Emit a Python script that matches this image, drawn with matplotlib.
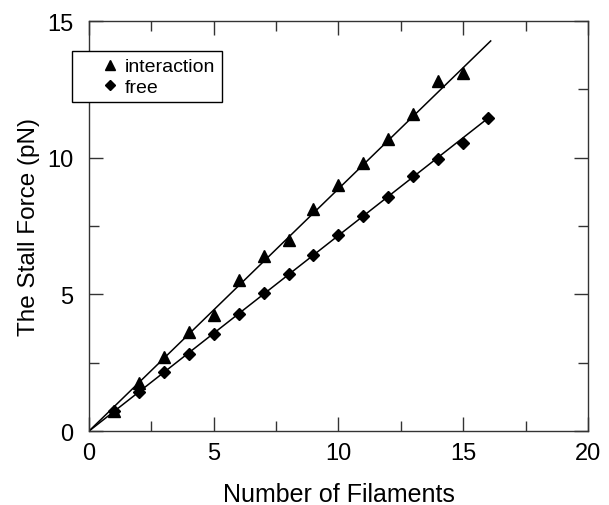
import numpy as np
import matplotlib.pyplot as plt
from matplotlib.ticker import MultipleLocator

plt.rcParams['font.family'] = ['Liberation Sans', 'DejaVu Sans']

# number of filaments
n_interaction = [1, 2, 3, 4, 5, 6, 7, 8, 9, 10, 11, 12, 13, 14, 15]
n_free = [1, 2, 3, 4, 5, 6, 7, 8, 9, 10, 11, 12, 13, 14, 15, 16]

# stall force (pN)
f_interaction = [0.75, 1.77, 2.70, 3.62, 4.26, 5.53, 6.39, 7.00, 8.12, 9.01,
                 9.80, 10.68, 11.59, 12.81, 13.11]
f_free = [0.72, 1.42, 2.16, 2.82, 3.56, 4.29, 5.04, 5.75, 6.44, 7.17,
          7.88, 8.58, 9.34, 9.97, 10.53, 11.45]

# linear fits through the origin (end points)
fit_x_interaction = [0, 16.1]
fit_y_interaction = [0, 14.27]
fit_x_free = [0, 16.0]
fit_y_free = [0, 11.45]

fig = plt.figure(figsize=(6.09, 5.06), dpi=100)
ax = fig.add_axes([0.146, 0.146, 0.8195, 0.8105])

ax.plot(fit_x_interaction, fit_y_interaction, color='black', lw=1.1)
ax.plot(fit_x_free, fit_y_free, color='black', lw=1.1)
ax.plot(n_interaction, f_interaction, '^', color='black', ms=8.5, label='interaction')
ax.plot(n_free, f_free, 'D', color='black', ms=6, label='free')

ax.set_xlim(0, 20)
ax.set_ylim(0, 15)
ax.xaxis.set_major_locator(MultipleLocator(5))
ax.xaxis.set_minor_locator(MultipleLocator(2.5))
ax.yaxis.set_major_locator(MultipleLocator(5))
ax.yaxis.set_minor_locator(MultipleLocator(2.5))
ax.tick_params(which='both', direction='in', top=True, right=True,
               labelsize=17, color='#333333')
ax.tick_params(axis='x', pad=8)
ax.tick_params(axis='y', pad=11)
ax.tick_params(which='major', length=10, width=1)
ax.tick_params(which='minor', length=7, width=1)
for s in ax.spines.values():
    s.set_linewidth(1)
    s.set_color('#333333')

ax.set_xlabel('Number of Filaments', fontsize=18, labelpad=13)
ax.set_ylabel('The Stall Force (pN)', fontsize=17.5, labelpad=5)

leg = ax.legend(loc='upper left', bbox_to_anchor=(72 / 609, 1 - 52 / 506),
                bbox_transform=fig.transFigure, fancybox=False, framealpha=1,
                edgecolor='black', fontsize=14, handlelength=3.2,
                handletextpad=-0.84, borderpad=0.35, labelspacing=0.13,
                borderaxespad=0, markerscale=0.8)
leg.get_frame().set_linewidth(1)

fig.savefig('out.png', dpi=100)
